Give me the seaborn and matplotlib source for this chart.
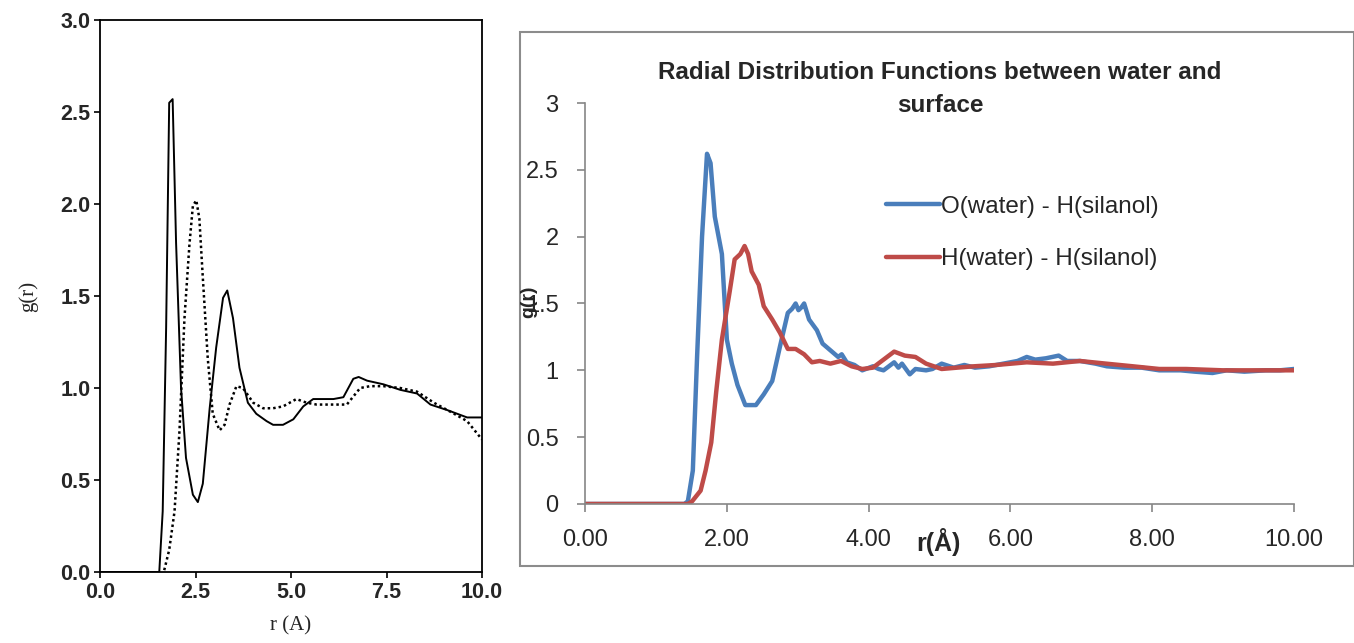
import matplotlib
matplotlib.use("Agg")
import matplotlib.pyplot as plt
from matplotlib.patches import Rectangle
import seaborn as sns
import pandas as pd

# ---- left panel (scanned figure): solid and dotted g(r)
r_solid = [0.0, 1.55, 1.64, 1.73, 1.81, 1.90, 1.99, 2.12, 2.25, 2.43, 2.56, 2.69, 2.87,
           3.04, 3.22, 3.33, 3.48, 3.65, 3.87, 4.09, 4.36, 4.53, 4.79, 5.06, 5.32,
           5.58, 5.85, 6.11, 6.37, 6.50, 6.63, 6.77, 6.99, 7.42, 7.86, 8.30, 8.65,
           9.09, 9.61, 10.0]
g_solid = [0.0, 0.0, 0.33, 1.33, 2.55, 2.57, 1.79, 1.00, 0.62, 0.42, 0.38, 0.48, 0.89,
           1.22, 1.49, 1.53, 1.38, 1.11, 0.92, 0.86, 0.82, 0.80, 0.80, 0.83, 0.90,
           0.94, 0.94, 0.94, 0.95, 1.00, 1.05, 1.06, 1.04, 1.02, 0.99, 0.97, 0.91,
           0.88, 0.84, 0.84]

r_dot = [1.68, 1.81, 1.95, 2.08, 2.21, 2.34, 2.43, 2.52, 2.60, 2.69, 2.82, 2.95, 3.13,
         3.26, 3.39, 3.57, 3.74, 4.01, 4.27, 4.53, 4.79, 5.14, 5.41, 5.67, 6.11,
         6.46, 6.81, 7.07, 7.42, 7.86, 8.30, 8.74, 9.27, 9.61, 10.0]
g_dot = [0.01, 0.12, 0.33, 0.77, 1.38, 1.78, 1.99, 2.02, 1.92, 1.60, 1.16, 0.86, 0.77,
         0.80, 0.91, 1.01, 1.00, 0.92, 0.89, 0.89, 0.90, 0.94, 0.92, 0.91, 0.91,
         0.91, 1.00, 1.01, 1.01, 1.00, 0.98, 0.92, 0.86, 0.82, 0.72]

# ---- right panel (Excel chart)
r_oh = [0.0, 1.40, 1.45, 1.52, 1.58, 1.65, 1.72, 1.77, 1.83, 1.93, 2.00, 2.07, 2.15,
        2.26, 2.41, 2.52, 2.64, 2.75, 2.86, 2.92, 2.97, 3.01, 3.05, 3.09, 3.16,
        3.27, 3.35, 3.46, 3.57, 3.62, 3.69, 3.80, 3.91, 4.06, 4.14, 4.21, 4.36,
        4.42, 4.47, 4.58, 4.66, 4.81, 4.90, 5.03, 5.20, 5.35, 5.50, 5.70, 5.90,
        6.10, 6.23, 6.35, 6.50, 6.68, 6.80, 6.98, 7.20, 7.36, 7.60, 7.85, 8.10,
        8.40, 8.60, 8.85, 9.05, 9.30, 9.60, 9.80, 10.0]
g_oh = [0.0, 0.0, 0.02, 0.25, 1.10, 2.00, 2.62, 2.55, 2.15, 1.87, 1.23, 1.05, 0.89,
        0.74, 0.74, 0.82, 0.92, 1.18, 1.43, 1.46, 1.50, 1.45, 1.47, 1.50, 1.38,
        1.30, 1.20, 1.15, 1.10, 1.12, 1.06, 1.04, 1.00, 1.03, 1.01, 1.00, 1.06,
        1.02, 1.05, 0.97, 1.01, 1.00, 1.01, 1.05, 1.02, 1.04, 1.02, 1.03, 1.05,
        1.07, 1.10, 1.08, 1.09, 1.11, 1.07, 1.07, 1.05, 1.03, 1.02, 1.02, 1.00,
        1.00, 0.99, 0.98, 1.00, 0.99, 1.00, 1.00, 1.01]

r_hh = [0.0, 1.45, 1.51, 1.63, 1.70, 1.78, 1.85, 1.93, 2.04, 2.11, 2.19, 2.25, 2.30,
        2.35, 2.45, 2.52, 2.64, 2.75, 2.86, 2.97, 3.09, 3.20, 3.31, 3.46, 3.61,
        3.76, 3.91, 4.06, 4.21, 4.36, 4.51, 4.66, 4.81, 5.03, 5.25, 5.48, 5.80,
        6.23, 6.60, 6.98, 7.35, 7.73, 8.10, 8.48, 9.00, 9.50, 10.0]
g_hh = [0.0, 0.0, 0.02, 0.10, 0.25, 0.46, 0.84, 1.23, 1.59, 1.83, 1.87, 1.93, 1.87,
        1.74, 1.64, 1.48, 1.38, 1.28, 1.16, 1.16, 1.12, 1.06, 1.07, 1.05, 1.07,
        1.03, 1.01, 1.02, 1.08, 1.14, 1.11, 1.10, 1.05, 1.01, 1.02, 1.03, 1.04,
        1.06, 1.05, 1.07, 1.05, 1.03, 1.01, 1.01, 1.00, 1.00, 1.00]

oh_label = "O(water) - H(silanol)"
hh_label = "H(water) - H(silanol)"

sns.set_style("white")
plt.rcParams["font.family"] = ["Liberation Sans", "DejaVu Sans"]

fig = plt.figure(figsize=(13.54, 6.43), dpi=100)

# left axes
ax1 = fig.add_axes([0.0739, 0.1104, 0.2821, 0.8585])
sns.lineplot(x=r_solid, y=g_solid, ax=ax1, color="black", linewidth=1.4)
sns.lineplot(x=r_dot, y=g_dot, ax=ax1, color="black", linewidth=1.8, linestyle=(0, (1, 1.2)))
ax1.set_xlim(0, 10)
ax1.set_ylim(0, 3)
ax1.set_xticks([0, 2.5, 5, 7.5, 10])
ax1.set_xticklabels(["0.0", "2.5", "5.0", "7.5", "10.0"])
ax1.set_yticks([0, 0.5, 1, 1.5, 2, 2.5, 3])
ax1.set_yticklabels(["0.0", "0.5", "1.0", "1.5", "2.0", "2.5", "3.0"])
for sp in ax1.spines.values():
    sp.set_color("black")
    sp.set_linewidth(1.3)
ax1.tick_params(axis="both", direction="out", length=4, width=1.2, color="black",
                labelsize=15.5, pad=3, bottom=True, left=True)
for lab in ax1.get_xticklabels() + ax1.get_yticklabels():
    lab.set_fontweight("bold")
ax1.set_xlabel("r (A)", family="Liberation Serif", fontsize=15, labelpad=10)
ax1.set_ylabel("g(r)", family="Liberation Serif", fontsize=15, labelpad=16)

# right chart frame
fig.patches.append(Rectangle((520 / 1354, 1 - 566 / 643), 834 / 1354, 534 / 643,
                             transform=fig.transFigure, fill=False,
                             edgecolor="#8c8c8c", linewidth=1.5))

ax2 = fig.add_axes([0.4321, 0.2162, 0.5236, 0.6236])
df_oh = pd.DataFrame({"r": r_oh, "g": g_oh})
df_hh = pd.DataFrame({"r": r_hh, "g": g_hh})
sns.lineplot(data=df_oh, x="r", y="g", ax=ax2, color="#4a7ebb", linewidth=3.2, label=oh_label)
sns.lineplot(data=df_hh, x="r", y="g", ax=ax2, color="#be4b48", linewidth=3.2, label=hh_label)
ax2.set_xlim(0, 10)
ax2.set_ylim(0, 3)
ax2.set_xticks([0, 2, 4, 6, 8, 10])
ax2.set_xticklabels(["0.00", "2.00", "4.00", "6.00", "8.00", "10.00"])
ax2.set_yticks([0, 0.5, 1, 1.5, 2, 2.5, 3])
ax2.set_yticklabels(["0", "0.5", "1", "1.5", "2", "2.5", "3"])
ax2.spines["top"].set_visible(False)
ax2.spines["right"].set_visible(False)
for s in ["left", "bottom"]:
    ax2.spines[s].set_color("#868686")
    ax2.spines[s].set_linewidth(1.2)
ax2.tick_params(axis="both", direction="out", length=6, width=1.2, color="#868686",
                labelsize=17, bottom=True, left=True)
ax2.tick_params(axis="x", pad=12)
ax2.tick_params(axis="y", pad=13)
ax2.set_xlabel("")
ax2.set_ylabel("")
ax2.legend(loc="center left", bbox_to_anchor=(874 / 1354, 1 - 233 / 643),
           bbox_transform=fig.transFigure, frameon=False, fontsize=17.5,
           handlelength=2.2, handletextpad=0.05, labelspacing=1.25, borderpad=0)

fig.text(940 / 1354, 1 - 89 / 643,
         "Radial Distribution Functions between water and\nsurface",
         ha="center", va="center", fontsize=17.5, fontweight="bold", linespacing=1.6)
fig.text(938 / 1354, 1 - 542 / 643, "r(Å)", ha="center", va="center",
         fontsize=18, fontweight="bold")
fig.text(529 / 1354, 1 - 302 / 643, "g(r)", ha="center", va="center",
         fontsize=14, fontweight="bold", rotation=90)

fig.savefig("out.png", dpi=100)
